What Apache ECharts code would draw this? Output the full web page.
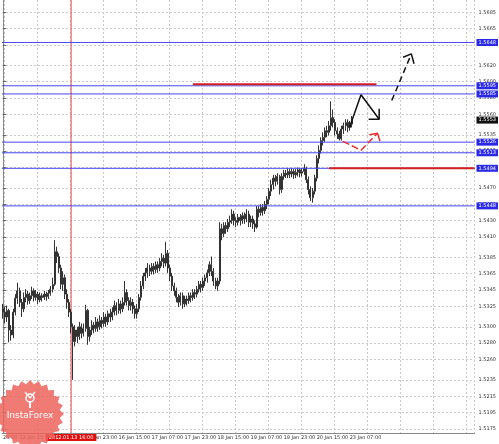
<!DOCTYPE html>
<html>
<head>
<meta charset="utf-8">
<script src="https://cdn.jsdelivr.net/npm/echarts@6/dist/echarts.min.js"></script>
<style>
  html, body { margin: 0; padding: 0; background: #fff; }
  #chart { width: 499px; height: 444px; }
</style>
</head>
<body>
<div id="chart"></div>
<script>
// H1 candles, 12 Jan 07:00 .. 23 Jan 09:00 -> [open, close, low, high]
const candles = [
  [1.5322, 1.5318, 1.5310, 1.5328], [1.5318, 1.5312, 1.5304, 1.5324], [1.5312, 1.5320, 1.5306, 1.5326],
  [1.5320, 1.5296, 1.5281, 1.5322], [1.5296, 1.5290, 1.5283, 1.5302], [1.5290, 1.5318, 1.5286, 1.5322],
  [1.5318, 1.5335, 1.5314, 1.5340], [1.5335, 1.5344, 1.5328, 1.5354], [1.5344, 1.5330, 1.5324, 1.5348],
  [1.5330, 1.5322, 1.5312, 1.5334], [1.5322, 1.5336, 1.5318, 1.5342], [1.5336, 1.5340, 1.5330, 1.5346],
  [1.5340, 1.5332, 1.5327, 1.5344], [1.5332, 1.5338, 1.5328, 1.5342], [1.5338, 1.5344, 1.5334, 1.5349],
  [1.5344, 1.5336, 1.5331, 1.5347], [1.5336, 1.5340, 1.5332, 1.5345], [1.5340, 1.5333, 1.5328, 1.5343],
  [1.5333, 1.5338, 1.5330, 1.5342], [1.5338, 1.5336, 1.5331, 1.5341], [1.5336, 1.5340, 1.5333, 1.5344],
  [1.5340, 1.5337, 1.5332, 1.5343], [1.5337, 1.5341, 1.5334, 1.5345], [1.5341, 1.5346, 1.5338, 1.5350],
  [1.5346, 1.5352, 1.5342, 1.5360], [1.5352, 1.5392, 1.5350, 1.5406], [1.5392, 1.5386, 1.5378, 1.5398],
  [1.5386, 1.5372, 1.5366, 1.5390], [1.5372, 1.5352, 1.5346, 1.5376], [1.5352, 1.5360, 1.5344, 1.5368],
  [1.5360, 1.5340, 1.5334, 1.5364], [1.5340, 1.5330, 1.5322, 1.5346], [1.5330, 1.5318, 1.5312, 1.5334],
  [1.5318, 1.5300, 1.5292, 1.5322], [1.5300, 1.5282, 1.5235, 1.5304], [1.5282, 1.5296, 1.5276, 1.5302],
  [1.5296, 1.5288, 1.5280, 1.5300], [1.5288, 1.5300, 1.5284, 1.5306], [1.5300, 1.5292, 1.5286, 1.5304],
  [1.5292, 1.5298, 1.5288, 1.5304], [1.5298, 1.5320, 1.5294, 1.5327], [1.5320, 1.5288, 1.5278, 1.5322],
  [1.5288, 1.5296, 1.5282, 1.5300], [1.5296, 1.5302, 1.5290, 1.5308], [1.5302, 1.5298, 1.5292, 1.5306],
  [1.5298, 1.5306, 1.5294, 1.5312], [1.5306, 1.5300, 1.5294, 1.5310], [1.5300, 1.5308, 1.5296, 1.5314],
  [1.5308, 1.5304, 1.5298, 1.5312], [1.5304, 1.5312, 1.5300, 1.5318], [1.5312, 1.5306, 1.5300, 1.5316],
  [1.5306, 1.5316, 1.5302, 1.5320], [1.5316, 1.5312, 1.5306, 1.5322], [1.5312, 1.5318, 1.5308, 1.5324],
  [1.5318, 1.5326, 1.5314, 1.5332], [1.5326, 1.5320, 1.5314, 1.5330], [1.5320, 1.5328, 1.5316, 1.5334],
  [1.5328, 1.5322, 1.5316, 1.5332], [1.5322, 1.5330, 1.5318, 1.5336], [1.5330, 1.5342, 1.5326, 1.5356],
  [1.5342, 1.5332, 1.5326, 1.5346], [1.5332, 1.5326, 1.5320, 1.5336], [1.5326, 1.5330, 1.5320, 1.5336],
  [1.5330, 1.5322, 1.5316, 1.5334], [1.5322, 1.5316, 1.5310, 1.5326], [1.5316, 1.5322, 1.5310, 1.5328],
  [1.5322, 1.5336, 1.5318, 1.5340], [1.5336, 1.5350, 1.5332, 1.5356], [1.5350, 1.5362, 1.5346, 1.5366],
  [1.5362, 1.5366, 1.5356, 1.5372], [1.5366, 1.5372, 1.5360, 1.5378], [1.5372, 1.5368, 1.5362, 1.5376],
  [1.5368, 1.5374, 1.5364, 1.5378], [1.5374, 1.5370, 1.5364, 1.5378], [1.5370, 1.5376, 1.5366, 1.5380],
  [1.5376, 1.5372, 1.5366, 1.5380], [1.5372, 1.5380, 1.5368, 1.5384], [1.5380, 1.5384, 1.5374, 1.5390],
  [1.5384, 1.5378, 1.5372, 1.5388], [1.5378, 1.5390, 1.5374, 1.5404], [1.5390, 1.5372, 1.5366, 1.5394],
  [1.5372, 1.5362, 1.5356, 1.5376], [1.5362, 1.5350, 1.5344, 1.5366], [1.5350, 1.5344, 1.5338, 1.5354],
  [1.5344, 1.5336, 1.5330, 1.5348], [1.5336, 1.5330, 1.5324, 1.5340], [1.5330, 1.5338, 1.5326, 1.5342],
  [1.5338, 1.5328, 1.5322, 1.5342], [1.5328, 1.5334, 1.5324, 1.5338], [1.5334, 1.5332, 1.5326, 1.5338],
  [1.5332, 1.5338, 1.5328, 1.5342], [1.5338, 1.5336, 1.5330, 1.5342], [1.5336, 1.5342, 1.5332, 1.5346],
  [1.5342, 1.5340, 1.5334, 1.5346], [1.5340, 1.5346, 1.5336, 1.5350], [1.5346, 1.5352, 1.5342, 1.5356],
  [1.5352, 1.5348, 1.5342, 1.5356], [1.5348, 1.5356, 1.5344, 1.5360], [1.5356, 1.5360, 1.5350, 1.5364],
  [1.5360, 1.5366, 1.5354, 1.5370], [1.5366, 1.5376, 1.5362, 1.5380], [1.5376, 1.5368, 1.5362, 1.5386],
  [1.5368, 1.5356, 1.5350, 1.5372], [1.5356, 1.5350, 1.5346, 1.5360], [1.5350, 1.5356, 1.5344, 1.5360],
  [1.5356, 1.5420, 1.5352, 1.5428], [1.5420, 1.5414, 1.5406, 1.5426], [1.5414, 1.5424, 1.5410, 1.5428],
  [1.5424, 1.5420, 1.5414, 1.5428], [1.5420, 1.5428, 1.5416, 1.5432], [1.5428, 1.5430, 1.5422, 1.5436],
  [1.5430, 1.5438, 1.5426, 1.5444], [1.5438, 1.5430, 1.5424, 1.5442], [1.5430, 1.5428, 1.5422, 1.5434],
  [1.5428, 1.5434, 1.5424, 1.5438], [1.5434, 1.5430, 1.5424, 1.5438], [1.5430, 1.5436, 1.5426, 1.5440],
  [1.5436, 1.5432, 1.5426, 1.5440], [1.5432, 1.5438, 1.5428, 1.5444], [1.5438, 1.5428, 1.5422, 1.5442],
  [1.5428, 1.5432, 1.5422, 1.5436], [1.5432, 1.5426, 1.5420, 1.5436], [1.5426, 1.5422, 1.5416, 1.5430],
  [1.5422, 1.5444, 1.5420, 1.5448], [1.5444, 1.5440, 1.5434, 1.5448], [1.5440, 1.5446, 1.5436, 1.5450],
  [1.5446, 1.5442, 1.5436, 1.5450], [1.5442, 1.5450, 1.5438, 1.5454], [1.5450, 1.5456, 1.5444, 1.5460],
  [1.5456, 1.5466, 1.5450, 1.5470], [1.5466, 1.5474, 1.5460, 1.5480], [1.5474, 1.5482, 1.5468, 1.5486],
  [1.5482, 1.5478, 1.5472, 1.5486], [1.5478, 1.5484, 1.5474, 1.5488], [1.5484, 1.5468, 1.5462, 1.5486],
  [1.5468, 1.5484, 1.5464, 1.5488], [1.5484, 1.5488, 1.5480, 1.5492], [1.5488, 1.5486, 1.5482, 1.5492],
  [1.5486, 1.5490, 1.5482, 1.5494], [1.5490, 1.5487, 1.5482, 1.5493], [1.5487, 1.5490, 1.5483, 1.5494],
  [1.5490, 1.5486, 1.5481, 1.5493], [1.5486, 1.5489, 1.5482, 1.5493], [1.5489, 1.5492, 1.5484, 1.5495],
  [1.5492, 1.5488, 1.5483, 1.5494], [1.5488, 1.5490, 1.5484, 1.5494], [1.5490, 1.5494, 1.5486, 1.5499],
  [1.5494, 1.5480, 1.5476, 1.5496], [1.5480, 1.5468, 1.5462, 1.5484], [1.5468, 1.5458, 1.5454, 1.5472],
  [1.5458, 1.5466, 1.5452, 1.5470], [1.5466, 1.5482, 1.5462, 1.5486], [1.5482, 1.5506, 1.5478, 1.5510],
  [1.5506, 1.5516, 1.5500, 1.5522], [1.5516, 1.5528, 1.5512, 1.5532], [1.5528, 1.5532, 1.5522, 1.5538],
  [1.5532, 1.5540, 1.5526, 1.5544], [1.5540, 1.5538, 1.5532, 1.5546], [1.5538, 1.5546, 1.5534, 1.5552],
  [1.5546, 1.5556, 1.5540, 1.5576], [1.5556, 1.5550, 1.5544, 1.5566], [1.5550, 1.5540, 1.5534, 1.5554],
  [1.5540, 1.5536, 1.5530, 1.5544], [1.5536, 1.5530, 1.5528, 1.5540], [1.5530, 1.5542, 1.5528, 1.5546],
  [1.5542, 1.5546, 1.5536, 1.5550], [1.5546, 1.5550, 1.5540, 1.5554], [1.5550, 1.5544, 1.5538, 1.5554],
  [1.5544, 1.5548, 1.5540, 1.5552], [1.5548, 1.5553, 1.5544, 1.5558]
];

const slotCount = 229;           // bars that fit across the window
const xTickIndex = [0, 8, 24, 40, 56, 72, 88, 104, 120, 136, 152, 168];
const xTickText = ['23:00', '12 Jan 15:00', '13 Jan 07:00', '13 Jan 23:00', '16 Jan 15:00', '17 Jan 07:00',
  '17 Jan 23:00', '18 Jan 15:00', '19 Jan 07:00', '19 Jan 23:00', '20 Jan 15:00', '23 Jan 07:00'];

const yTicks = [1.5175, 1.5195, 1.5215, 1.5235, 1.5260, 1.5280, 1.5300, 1.5325, 1.5345, 1.5365, 1.5385,
  1.5410, 1.5430, 1.5450, 1.5470, 1.5495, 1.5515, 1.5535, 1.5560, 1.5580, 1.5600, 1.5620, 1.5645, 1.5665, 1.5685];
const yMin = 1.5170, yMax = 1.5700;

// support / resistance levels (blue lines with price boxes)
const levels = [1.5648, 1.5595, 1.5585, 1.5526, 1.5513, 1.5494, 1.5448];
const lastPrice = 1.5553;
const markerBar = 33;                 // 2012.01.13 16:00
const markerText = '2012.01.13 16:00';

// red horizontal segments: [fromBar, toBar, price]
const redSegments = [[92, 181, 1.5597], [158, 228.5, 1.5494]];

// drawn forecast paths, [bar, price]
const blackPath = [[167.9, 1.5544], [173.5, 1.5584], [182.3, 1.5554]];
const blackHead = [[177.2, 1.5554], [182.3, 1.5554], [182.3, 1.5567]];
const dashPath = [[188.4, 1.5577], [197.9, 1.5634]];
const dashHead = [[193.9, 1.5630], [197.9, 1.5634], [199.2, 1.5622]];
const redPath = [[164.7, 1.5527], [173.5, 1.5516], [181.5, 1.5537]];
const redHead = [[177.5, 1.5535], [181.5, 1.5537], [182.7, 1.5527]];

const chart = echarts.init(document.getElementById('chart'));
const font = 'DejaVu Sans';

const cats = [];
for (let i = 0; i < slotCount; i++) cats.push(String(i));

// starburst badge
const star = [];
const cx = 30, cy = 414;
for (let k = 0; k < 48; k++) {
  const a = k * Math.PI / 24;
  const r = k % 2 ? 30 : 34;
  star.push([cx + r * Math.cos(a), cy + r * Math.sin(a)]);
}

function pathSeries(data, color, type, width, z) {
  return {
    type: 'line',
    xAxisIndex: 1,
    data: data,
    symbol: 'none',
    silent: true,
    color: color,
    lineStyle: { color: color, width: width, type: type },
    z: z || 5
  };
}

// a horizontal line across the plot, drawn on the value x axis
function levelSeries(price, color, box) {
  return {
    type: 'line',
    xAxisIndex: 1,
    data: [[-0.5, price], [slotCount - 0.5, price]],
    symbol: 'none',
    silent: true,
    lineStyle: { color: color || '#fff', width: 1, opacity: color ? 1 : 0 },
    endLabel: {
      show: true,
      formatter: price.toFixed(4),
      backgroundColor: box,
      color: '#fff',
      fontSize: 5,
      fontFamily: font,
      padding: [1, 2, 1, 2],
      distance: 2
    },
    z: 4
  };
}

const option = {
  animation: false,
  backgroundColor: '#fff',
  grid: { left: 0, right: 23, top: 0, bottom: 11 },
  xAxis: [
    {
      type: 'category',
      data: cats,
      boundaryGap: true,
      axisLine: { lineStyle: { color: '#888' } },
      axisTick: {
        alignWithLabel: true, length: 3, lineStyle: { color: '#666' },
        interval: (i) => i > 0 && xTickIndex.includes(i)
      },
      axisLabel: {
        interval: (i) => xTickIndex.includes(i),
        formatter: (v, i) => {
          const k = xTickIndex.indexOf(i);
          return k >= 0 ? xTickText[k] : '';
        },
        align: 'left',
        margin: 2,
        fontSize: 5,
        fontFamily: font,
        color: '#333'
      },
      splitLine: {
        show: true,
        interval: (i) => i % 16 === 1,
        lineStyle: { color: '#c8c8c8', type: [2, 2], width: 1 }
      }
    },
    { type: 'value', min: -0.5, max: slotCount - 0.5, show: false }
  ],
  yAxis: {
    type: 'value',
    position: 'right',
    min: yMin,
    max: yMax,
    axisLine: { show: true, lineStyle: { color: '#888' } },
    axisTick: { show: true, length: 3, customValues: yTicks, lineStyle: { color: '#666' } },
    axisLabel: {
      customValues: yTicks,
      formatter: (v) => v.toFixed(4),
      fontSize: 5,
      fontFamily: font,
      color: '#333',
      margin: 4
    },
    splitLine: { show: true, lineStyle: { color: '#c8c8c8', type: [2, 2], width: 1 } }
  },
  series: [
    // vertical marker line with its date box under the axis
    {
      type: 'line',
      xAxisIndex: 1,
      data: [[markerBar, yMax], [markerBar, yMin]],
      symbol: 'none',
      silent: true,
      color: '#e44848',
      lineStyle: { color: '#e44848', width: 1 },
      markPoint: {
        silent: true,
        symbol: 'rect',
        symbolSize: 0.1,
        data: [{ coord: [markerBar, yMin] }],
        label: {
          show: true, position: 'bottom', distance: 1,
          formatter: markerText,
          backgroundColor: '#e01010', color: '#fff',
          fontSize: 5, fontFamily: font, padding: [1, 3, 1, 3]
        }
      },
      z: 2
    },
    {
      type: 'candlestick',
      data: candles,
      barWidth: 1.5,
      itemStyle: {
        color: '#fff', color0: '#222',
        borderColor: '#333', borderColor0: '#333', borderWidth: 1
      },
      z: 3
    },
    ...levels.map((v) => levelSeries(v, '#4646f0', '#2a2ae6')),
    levelSeries(lastPrice, null, '#111'),
    ...redSegments.map((s) => pathSeries([[s[0], s[2]], [s[1], s[2]]], '#d42020', 'solid', 2)),
    pathSeries(blackPath, '#111', 'solid', 1.5),
    pathSeries(blackHead, '#111', 'solid', 1.5),
    pathSeries(dashPath, '#111', [6, 4], 1.5),
    pathSeries(dashHead, '#111', 'solid', 1.5),
    pathSeries(redPath, '#e83030', [7, 3], 1.5),
    pathSeries(redHead, '#e83030', 'solid', 1.5)
  ],
  graphic: [
    {
      type: 'polygon',
      shape: { points: star },
      style: { fill: 'rgba(236, 100, 92, 0.85)' },
      z: 10
    },
    {
      type: 'circle',
      shape: { cx: cx, cy: cy - 16, r: 4 },
      style: { fill: 'none', stroke: '#fff', lineWidth: 1.5 },
      z: 11
    },
    {
      type: 'polyline',
      shape: { points: [[cx - 5, cy - 22], [cx, cy - 16], [cx + 5, cy - 22]] },
      style: { fill: 'none', stroke: '#fff', lineWidth: 1.2 },
      z: 11
    },
    {
      type: 'rect',
      shape: { x: cx - 1, y: cy - 13, width: 2, height: 7 },
      style: { fill: '#fff' },
      z: 11
    },
    {
      type: 'text',
      x: cx, y: cy - 3,
      style: { text: 'InstaForex', fill: '#fff', font: '9px "DejaVu Sans"', align: 'center', verticalAlign: 'top' },
      z: 11
    }
  ]
};

chart.setOption(option);
</script>
</body>
</html>
